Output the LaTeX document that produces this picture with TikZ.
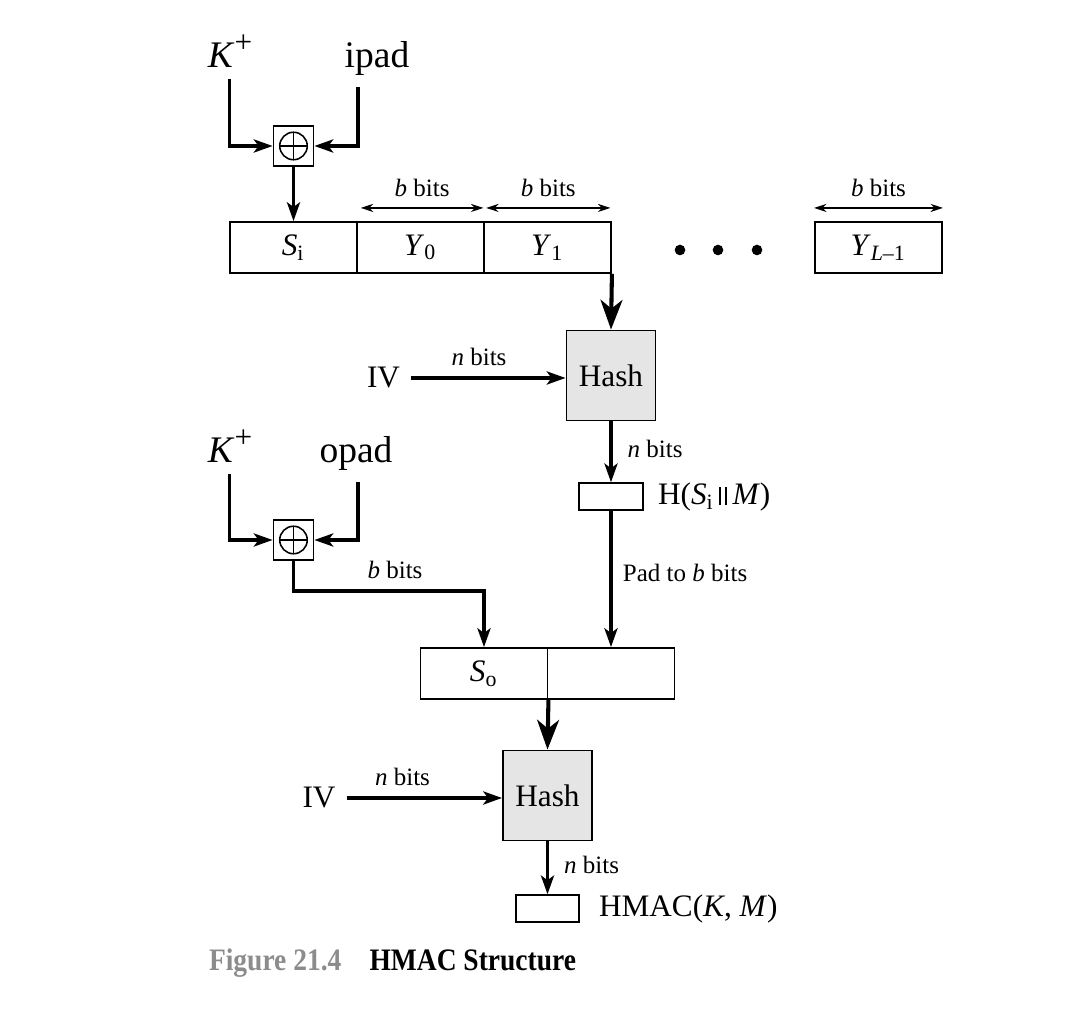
\documentclass[tikz,border=0pt]{standalone}
\usepackage{fontspec}
\setmainfont{Liberation Serif}
\newfontfamily\capfont[FakeStretch=0.88]{Liberation Serif}
\usetikzlibrary{arrows.meta}
\definecolor{hashgray}{gray}{0.9}
\definecolor{capgray}{gray}{0.55}
\newcommand{\concatbars}{\,\rule{0.6pt}{1.25ex}\hspace{1.3pt}\rule{0.6pt}{1.25ex}\,}
\newcommand{\keyplus}{\textit{K}\raisebox{0.9ex}{\fontsize{10}{12}\selectfont +}}

\begin{document}
\begin{tikzpicture}[
    x=0.32pt, y=-0.32pt,
    rowbox/.style={rectangle, draw, line width=0.6pt, minimum width=40.64pt, minimum height=16.32pt, inner sep=0pt, font=\fontsize{10}{12}\selectfont},
    xorbox/.style={rectangle, draw, line width=0.6pt, minimum size=12.8pt, inner sep=0pt},
    hashbox/.style={rectangle, draw, line width=0.6pt, fill=hashgray, minimum width=28.5pt, minimum height=28.8pt, inner sep=0pt, font=\fontsize{10}{12}\selectfont},
    outbox/.style={rectangle, draw, line width=0.6pt, minimum width=20.3pt, minimum height=8.5pt, inner sep=0pt},
    keytext/.style={font=\fontsize{12}{14}\selectfont, anchor=base},
    lbl/.style={font=\fontsize{8}{10}\selectfont},
    txt/.style={font=\fontsize{10}{12}\selectfont},
    arrow/.style={-{Stealth[length=6pt, width=4.2pt, inset=1.5pt]}, line width=1pt},
    bigarrow/.style={-{Stealth[length=9.5pt, width=7pt, inset=2.8pt]}, line width=1.3pt},
    dimarrow/.style={{Stealth[length=4pt, width=2.6pt]}-{Stealth[length=4pt, width=2.6pt]}, line width=0.4pt}
]
    \useasboundingbox (0,0) rectangle (1088,1024);

    % Inner key
    \node[keytext] (kp1) at (230,68) {\keyplus};
    \node[keytext] (ipad) at (377,68) {ipad};
    \node[xorbox] (x1) at (293.5,146) {};

    % Message blocks
    \node[rowbox] (si) at (293.5,247.5) {\textit{S}\textsubscript{i}};
    \node[rowbox] (y0) at (420.5,247.5) {\textit{Y}\textsubscript{0}};
    \node[rowbox] (y1) at (547.5,247.5) {\textit{Y}\textsubscript{1}};
    \node[rowbox] (yl) at (878.5,247.5) {\textit{Y}\textsubscript{\textit{L}–1}};
    \foreach \x in {680,718,757}
        \fill (\x,250) circle[radius=1.7pt];

    % Inner hash
    \node[hashbox] (hash1) at (611,375.5) {Hash};
    \node[txt] (iv1) at (383.5,378) {IV};
    \node[outbox] (h1) at (611,496.5) {};
    \node[txt, anchor=west] (hlab) at (647,497) {H(\textit{S}\textsubscript{i}\concatbars\textit{M})};

    % Outer key
    \node[keytext] (kp2) at (230,463) {\keyplus};
    \node[keytext] (opad) at (356,463) {opad};
    \node[xorbox] (x2) at (293.5,540) {};
    \coordinate (bend2) at (395,591);

    % Outer block
    \node[rowbox] (so) at (484,673.5) {\textit{S}\textsubscript{o}};
    \node[rowbox] (pad) at (611,673.5) {};

    % Outer hash
    \node[hashbox] (hash2) at (547.5,795.5) {Hash};
    \node[txt] (iv2) at (319,798) {IV};
    \node[outbox] (out) at (547.5,908.5) {};
    \node[txt, anchor=west] (hmac) at (588,909) {HMAC(\textit{K}, \textit{M})};

    % Caption
    \node[anchor=base west, font=\capfont\fontsize{10}{12}\selectfont\bfseries] (caption) at (198,971) {\textcolor{capgray}{Figure 21.4}\hspace{9pt}HMAC Structure};

    % XOR symbols
    \foreach \n in {x1,x2} {
        \draw[line width=0.5pt] (\n) circle[radius=4.4pt];
        \draw[line width=0.5pt] ([xshift=-4.4pt]\n.center) -- ([xshift=4.4pt]\n.center);
        \draw[line width=0.5pt] ([yshift=-4.4pt]\n.center) -- ([yshift=4.4pt]\n.center);
    }

    % Arrows
    \draw[arrow] (kp1.south -| si.west) |- (x1.west);
    \draw[arrow] (ipad.south -| si.east) |- (x1.east);
    \draw[arrow] (x1.south) -- (si.north);
    \draw[dimarrow] ([xshift=1.5pt,yshift=4.2pt]y0.north west) -- node[lbl, above] {\textit{b} bits} ([xshift=-0.5pt,yshift=4.2pt]y0.north east);
    \draw[dimarrow] ([xshift=1pt,yshift=4.2pt]y1.north west) -- node[lbl, above] {\textit{b} bits} ([xshift=-0.5pt,yshift=4.2pt]y1.north east);
    \draw[dimarrow] ([yshift=4.2pt]yl.north west) -- node[lbl, above] {\textit{b} bits} ([yshift=4.2pt]yl.north east);
    \draw[bigarrow] (y1.south east) -- (hash1.north);
    \draw[arrow] (iv1.east) -- node[lbl, above, pos=0.44] {\textit{n} bits} (iv1.east -| hash1.west);
    \draw[arrow] (hash1.south) -- node[lbl, right, pos=0.45, xshift=1.5pt] {\textit{n} bits} (h1.north);
    \draw[arrow] (h1.south) -- node[lbl, right, pos=0.46] {Pad to \textit{b} bits} (pad.north);
    \draw[arrow] (kp2.south -| si.west) |- (x2.west);
    \draw[arrow] (opad.south -| si.east) |- (x2.east);
    \draw[arrow] (x2.south) |- (bend2) node[lbl, above] {\textit{b} bits} -| (so.north);
    \draw[bigarrow] (so.south east) -- (hash2.north);
    \draw[arrow] (iv2.east) -- node[lbl, above, pos=0.36] {\textit{n} bits} (iv2.east -| hash2.west);
    \draw[arrow] (hash2.south) -- node[lbl, right, pos=0.45, xshift=1.5pt] {\textit{n} bits} (out.north);
\end{tikzpicture}
\end{document}
